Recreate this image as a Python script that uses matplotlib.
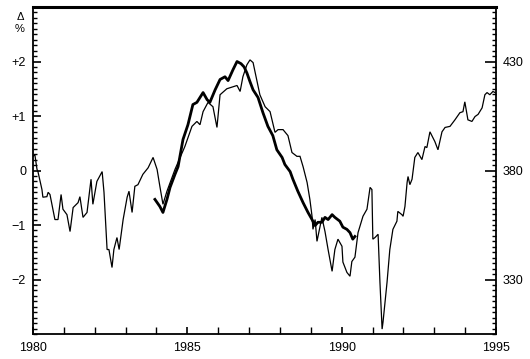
import matplotlib
matplotlib.use("Agg")
import matplotlib.pyplot as plt
from matplotlib.ticker import MultipleLocator, FixedLocator

# thin curve, full record (year, percent deviation)
thin_year = [1980.00, 1980.06, 1980.13, 1980.16, 1980.29, 1980.32, 1980.45, 1980.49, 1980.55, 1980.71,
             1980.81, 1980.91, 1980.97, 1981.10, 1981.20, 1981.30, 1981.46, 1981.52, 1981.62, 1981.75,
             1981.88, 1981.94, 1982.07, 1982.24, 1982.30, 1982.40, 1982.46, 1982.56, 1982.62, 1982.72,
             1982.79, 1982.92, 1983.05, 1983.11, 1983.21, 1983.30, 1983.40, 1983.56, 1983.73, 1983.89,
             1984.02, 1984.11, 1984.21, 1984.34, 1984.60, 1984.92, 1985.15, 1985.31, 1985.41, 1985.51,
             1985.67, 1985.83, 1985.96, 1986.06, 1986.28, 1986.61, 1986.71, 1986.80, 1986.93, 1987.03,
             1987.13, 1987.26, 1987.35, 1987.52, 1987.68, 1987.84, 1987.94, 1988.10, 1988.26, 1988.39,
             1988.55, 1988.65, 1988.75, 1988.88, 1988.97, 1989.04, 1989.07, 1989.14, 1989.20, 1989.30,
             1989.36, 1989.46, 1989.56, 1989.69, 1989.78, 1989.88, 1990.01, 1990.04, 1990.17, 1990.27,
             1990.33, 1990.43, 1990.53, 1990.69, 1990.82, 1990.92, 1990.98, 1991.01, 1991.08, 1991.18,
             1991.24, 1991.31, 1991.34, 1991.47, 1991.56, 1991.66, 1991.79, 1991.82, 1991.95, 1991.99,
             1992.05, 1992.12, 1992.15, 1992.21, 1992.28, 1992.37, 1992.47, 1992.60, 1992.70, 1992.76,
             1992.86, 1992.96, 1993.02, 1993.12, 1993.25, 1993.35, 1993.51, 1993.67, 1993.83, 1993.93,
             1993.99, 1994.09, 1994.22, 1994.32, 1994.42, 1994.55, 1994.64, 1994.71, 1994.80, 1994.90,
             1994.97]
thin_val = [0.26, 0.29, 0.02, -0.02, -0.35, -0.49, -0.48, -0.40, -0.44, -0.90,
            -0.90, -0.44, -0.71, -0.81, -1.12, -0.68, -0.59, -0.48, -0.86, -0.77,
            -0.16, -0.62, -0.20, -0.02, -0.40, -1.45, -1.45, -1.78, -1.45, -1.23,
            -1.45, -0.90, -0.49, -0.38, -0.77, -0.29, -0.26, -0.07, 0.05, 0.24,
            0.02, -0.29, -0.62, -0.38, 0.02, 0.44, 0.81, 0.90, 0.84, 1.08,
            1.25, 1.17, 0.79, 1.39, 1.50, 1.56, 1.45, 1.72, 1.94, 2.03,
            1.98, 1.63, 1.39, 1.17, 1.08, 0.70, 0.75, 0.75, 0.64, 0.33,
            0.26, 0.26, 0.07, -0.22, -0.53, -0.84, -1.08, -0.90, -1.30, -1.03,
            -0.86, -1.12, -1.45, -1.85, -1.45, -1.26, -1.39, -1.68, -1.87, -1.94,
            -1.67, -1.59, -1.14, -0.84, -0.71, -0.31, -0.35, -1.26, -1.23, -1.17,
            -2.05, -2.91, -2.78, -2.05, -1.45, -1.08, -0.93, -0.75, -0.81, -0.84,
            -0.66, -0.22, -0.11, -0.26, -0.16, 0.24, 0.33, 0.20, 0.44, 0.42,
            0.71, 0.60, 0.53, 0.38, 0.71, 0.79, 0.81, 0.93, 1.06, 1.08,
            1.26, 0.93, 0.90, 0.99, 1.03, 1.15, 1.39, 1.43, 1.39, 1.45,
            1.43]

# thick curve, 1984-1990
thick_year = [1983.95, 1984.11, 1984.21, 1984.34, 1984.44, 1984.60, 1984.70, 1984.86, 1985.02, 1985.18,
              1985.31, 1985.51, 1985.64, 1985.73, 1985.90, 1986.06, 1986.22, 1986.32, 1986.48, 1986.61,
              1986.74, 1986.84, 1986.93, 1987.03, 1987.13, 1987.29, 1987.45, 1987.61, 1987.77, 1987.90,
              1988.07, 1988.16, 1988.33, 1988.42, 1988.58, 1988.75, 1988.91, 1989.04, 1989.14, 1989.23,
              1989.36, 1989.46, 1989.56, 1989.69, 1989.78, 1989.94, 1990.04, 1990.17, 1990.27, 1990.36,
              1990.43]
thick_val = [-0.53, -0.66, -0.77, -0.53, -0.31, -0.07, 0.07, 0.57, 0.84, 1.21,
             1.25, 1.43, 1.30, 1.25, 1.48, 1.67, 1.72, 1.65, 1.85, 2.00,
             1.96, 1.90, 1.79, 1.63, 1.48, 1.34, 1.06, 0.81, 0.64, 0.38,
             0.24, 0.11, -0.02, -0.16, -0.38, -0.59, -0.77, -0.90, -1.01, -0.95,
             -0.95, -0.86, -0.90, -0.81, -0.86, -0.93, -1.04, -1.08, -1.14, -1.26,
             -1.21]

left_ticks = [-2, -1, 0, 1, 2]
left_labels = ["\u22122", "\u22121", "0", "+1", "+2"]
right_ticks = [330, 380, 430]
year_labels = [1980, 1985, 1990, 1995]

plt.rcParams['font.family'] = ['Liberation Sans', 'DejaVu Sans']

fig = plt.figure(figsize=(5.30, 3.59), dpi=100)
ax = fig.add_axes([33 / 530, 1 - 334 / 359, 463 / 530, 327 / 359])

ax.plot(thin_year, thin_val, color='black', lw=0.9, solid_joinstyle='miter')
ax.plot(thick_year, thick_val, color='black', lw=2.0)

ax.set_xlim(1980, 1995)
ax.set_ylim(-3, 3)

for s in ['left', 'bottom', 'right']:
    ax.spines[s].set_linewidth(1.3)
ax.spines['top'].set_linewidth(2.2)

ax.set_yticks(left_ticks)
ax.set_yticklabels(left_labels)
ax.yaxis.set_minor_locator(MultipleLocator(0.1))
ax.set_xticks(year_labels)
ax.set_xticklabels([str(y) for y in year_labels])
ax.xaxis.set_minor_locator(MultipleLocator(1))

ax.tick_params(axis='y', which='major', direction='in', length=6, width=1.2,
               labelsize=9, pad=5)
ax.tick_params(axis='y', which='minor', direction='in', length=3, width=1)
ax.tick_params(axis='x', which='major', direction='in', length=5, width=1.2,
               labelsize=9, pad=6)
ax.tick_params(axis='x', which='minor', direction='in', length=5, width=1)

ax2 = ax.twinx()
ax2.set_ylim(305, 455)
ax2.set_yticks(right_ticks)
ax2.yaxis.set_minor_locator(FixedLocator([v * 2.5 for v in range(122, 182)]))
ax2.tick_params(axis='y', which='major', direction='in', length=8, width=1.2,
                labelsize=9, pad=5)
ax2.tick_params(axis='y', which='minor', direction='in', length=3, width=1)
for s in ax2.spines.values():
    s.set_visible(False)

fig.text(20 / 530, 1 - 17 / 359, "\u0394", ha='center', va='center', fontsize=8)
fig.text(20 / 530, 1 - 29 / 359, "%", ha='center', va='center', fontsize=8)

fig.savefig("out.png", dpi=100)
